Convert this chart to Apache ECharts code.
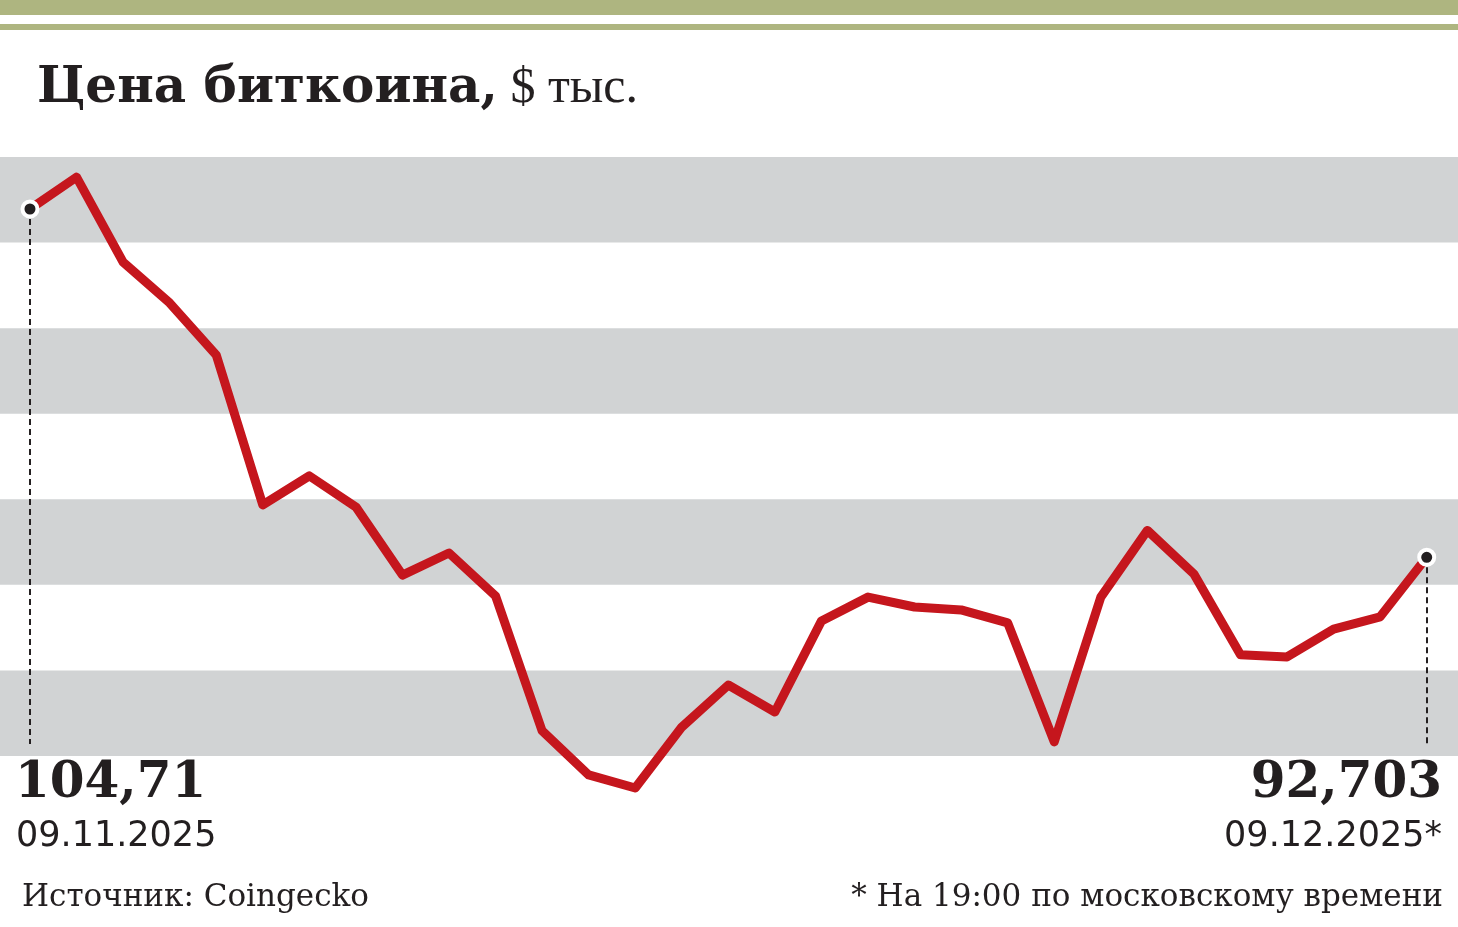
<!DOCTYPE html>
<html>
<head>
<meta charset="utf-8">
<script src="https://cdn.jsdelivr.net/npm/echarts@6/dist/echarts.min.js"></script>
<style>
html,body{margin:0;padding:0;background:#fff;}
#chart{width:1458px;height:927px;}
</style>
</head>
<body>
<div id="chart"></div>
<script>
// ---- data ----
const dates = ['09.11.2025','10.11.2025','11.11.2025','12.11.2025','13.11.2025','14.11.2025','15.11.2025','16.11.2025','17.11.2025','18.11.2025','19.11.2025','20.11.2025','21.11.2025','22.11.2025','23.11.2025','24.11.2025','25.11.2025','26.11.2025','27.11.2025','28.11.2025','29.11.2025','30.11.2025','01.12.2025','02.12.2025','03.12.2025','04.12.2025','05.12.2025','06.12.2025','07.12.2025','08.12.2025','09.12.2025'];
const prices = [104.71,105.81,102.88,101.47,99.68,94.51,95.51,94.44,92.09,92.85,91.37,86.72,85.20,84.75,86.85,88.30,87.37,90.51,91.33,90.99,90.89,90.44,86.34,91.33,93.63,92.13,89.34,89.27,90.23,90.65,92.703];
const titleBold = 'Цена биткоина,';
const titleUnit = ' $ тыс.';
const sourceText = 'Источник: Coingecko';
const noteText = '* На 19:00 по московскому времени';

// ---- decoration in value units ----
const bandTop = 106.503;
const bandStep = 2.95;
const bandCount = 4;
const dropTo = 86.27;

const fmt = v => String(v).replace('.', ',');
const last = prices.length - 1;

const bands = [];
for (let k = 0; k < bandCount; k++) {
  bands.push([{yAxis: bandTop - 2*k*bandStep}, {yAxis: bandTop - (2*k+1)*bandStep}]);
}

const chart = echarts.init(document.getElementById('chart'), null, {renderer:'canvas'});
const option = {
  animation: false,
  backgroundColor: '#ffffff',
  grid: {left: 0, right: 0, top: 142.57, bottom: 88.24},
  xAxis: {type:'value', min:-0.644, max:30.672, show:false},
  yAxis: {type:'value', min:83, max:107, show:false, splitLine:{show:false}},
  series: [
    {
      type:'line',
      data: prices.map((v,i)=>[i,v]),
      showSymbol:false,
      lineStyle:{color:'#c5161d', width:9, cap:'round', join:'round'},
      z: 5,
      markArea: {
        silent:true,
        itemStyle:{color:'#d1d3d4'},
        data: bands,
        z: 1
      },
      markLine: {
        silent:true,
        symbol:['none','none'],
        label:{show:false},
        lineStyle:{color:'#231f20', type:[6,4], width:2},
        data: [
          [{coord:[0, prices[0]]},{coord:[0, dropTo]}],
          [{coord:[last, prices[last]]},{coord:[last, dropTo]}]
        ]
      }
    },
    {
      type:'scatter',
      data:[[0, prices[0]],[last, prices[last]]],
      symbol:'circle',
      symbolSize:15,
      itemStyle:{color:'#231f20', borderColor:'#ffffff', borderWidth:4, opacity:1},
      z: 10
    }
  ],
  graphic: [
    {type:'rect', shape:{x:0,y:0,width:1458,height:15}, style:{fill:'#aeb580'}},
    {type:'rect', shape:{x:0,y:24,width:1458,height:6}, style:{fill:'#aeb580'}},
    {type:'text', x:37, y:89, style:{
      text:'{b|'+titleBold+'}{n|'+titleUnit+'}',
      verticalAlign:'middle', align:'left',
      rich:{
        b:{font:'bold 50px "DejaVu Serif"', fill:'#231f20'},
        n:{font:'normal 50px "Liberation Serif"', fill:'#231f20'}
      }
    }},
    {type:'text', x:15, y:784, style:{text:fmt(prices[0]), font:'bold 50px "DejaVu Serif"', fill:'#231f20', align:'left', verticalAlign:'middle'}},
    {type:'text', x:1442, y:784, style:{text:fmt(prices[last]), font:'bold 50px "DejaVu Serif"', fill:'#231f20', align:'right', verticalAlign:'middle'}},
    {type:'text', x:16, y:837, style:{text:dates[0], font:'normal 35px "DejaVu Sans"', fill:'#231f20', align:'left', verticalAlign:'middle'}},
    {type:'text', x:1442, y:837, style:{text:dates[last]+'*', font:'normal 35px "DejaVu Sans"', fill:'#231f20', align:'right', verticalAlign:'middle'}},
    {type:'text', x:22, y:898, style:{text:sourceText, font:'normal 31px "DejaVu Serif"', fill:'#231f20', align:'left', verticalAlign:'middle'}},
    {type:'text', x:1443, y:898, style:{text:noteText, font:'normal 31px "DejaVu Serif"', fill:'#231f20', align:'right', verticalAlign:'middle'}}
  ]
};
chart.setOption(option);
</script>
</body>
</html>
